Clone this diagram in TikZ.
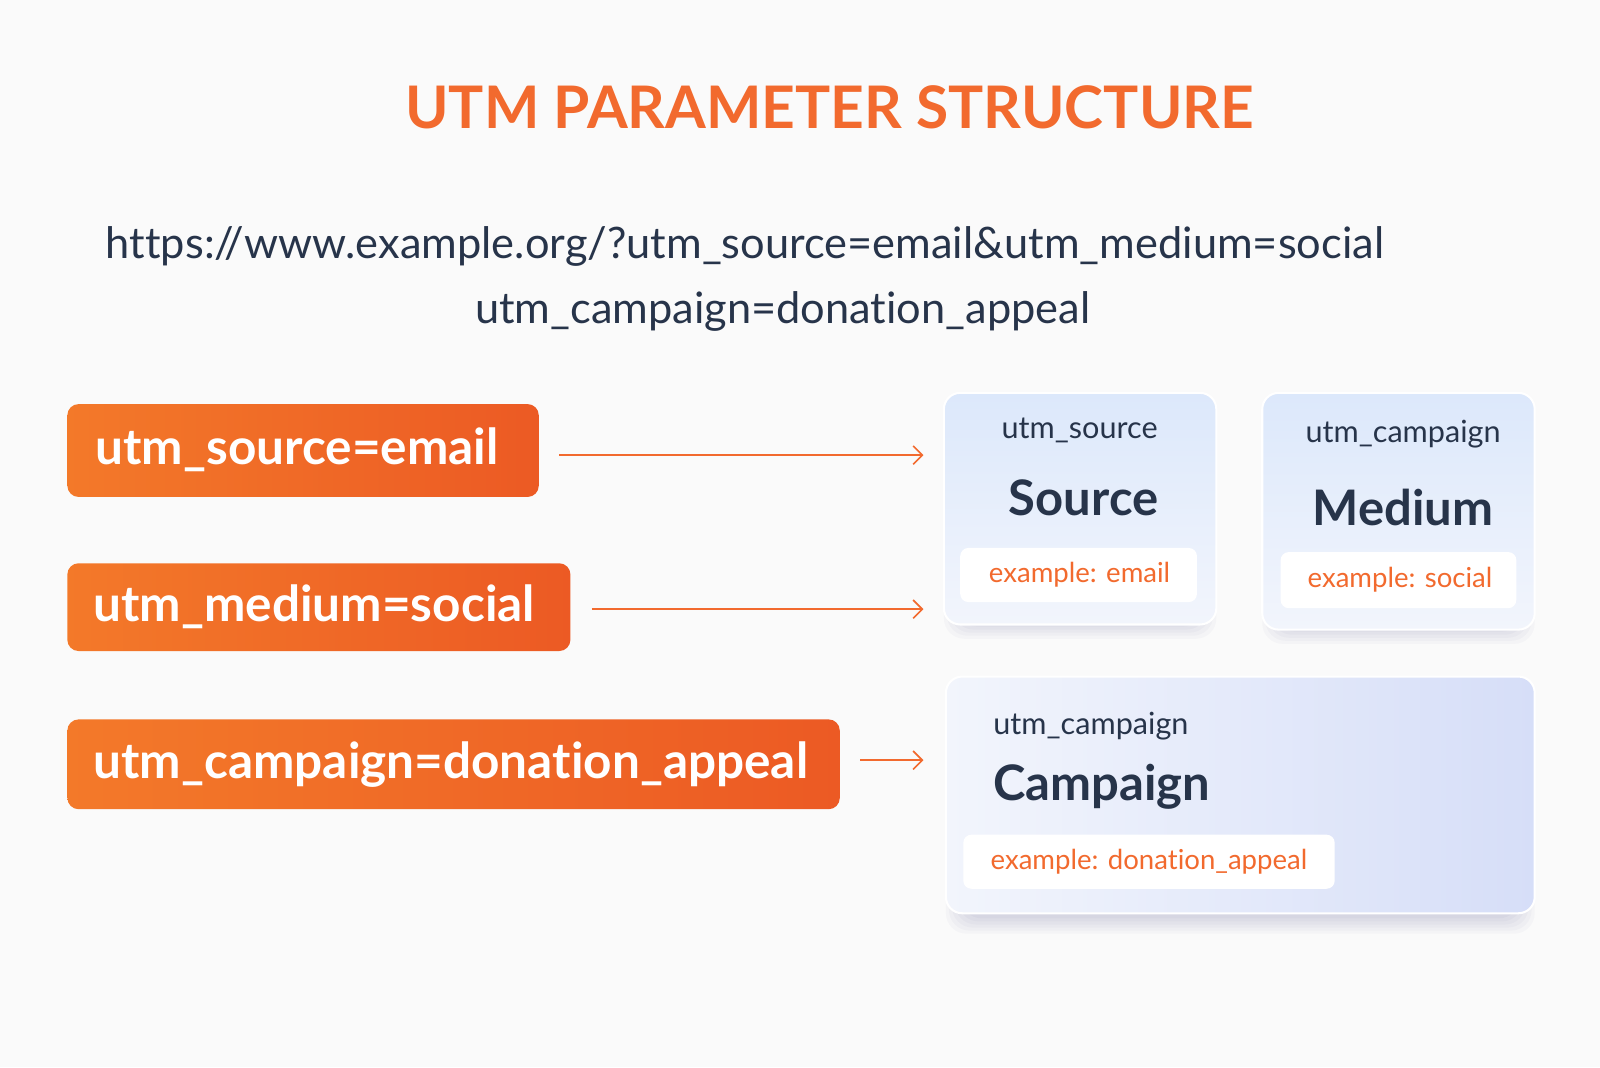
\documentclass[tikz,border=0pt]{standalone}
\usepackage{fontspec}
\setmainfont{Lato}[Ligatures=NoCommon]
\usetikzlibrary{arrows.meta}
\definecolor{org}{HTML}{F26A2E}
\definecolor{orgd}{HTML}{EC5A24}
\definecolor{ink}{HTML}{27344A}
\definecolor{cardA}{HTML}{DCE8FB}
\definecolor{cardB}{HTML}{F2F5FC}
\definecolor{cardC}{HTML}{D6DEF8}
\begin{document}
\begin{tikzpicture}[x=1pt,y=-1pt,
  tag/.style={rounded corners=11pt,left color=org!90!yellow,right color=orgd,draw=none},
  tagtxt/.style={text=white,font=\fontsize{48.5}{52}\selectfont\bfseries,anchor=west},
  arr/.style={draw=org,line width=1.6pt,-{Straight Barb[length=9pt,width=18pt]}},
  card/.style={rounded corners=16pt,draw=white,line width=2pt,top color=cardA,bottom color=cardB},
  shad/.style={rounded corners=20pt,fill=black!60!blue,fill opacity=0.025,draw=none},
  ex/.style={rounded corners=8pt,fill=white,draw=none},
  extxt/.style={text=org,font=\fontsize{27}{30}\selectfont},
  small/.style={text=ink,font=\fontsize{30}{34}\selectfont},
  big/.style={text=ink,font=\fontsize{48}{52}\selectfont\bfseries}]
\useasboundingbox[fill=gray!4] (0,0) rectangle (1568,1046);
\node[text=org,font=\fontsize{57.5}{60}\selectfont\bfseries] (title) at (813,105) {UTM PARAMETER STRUCTURE};
\node[text=ink,font=\fontsize{42.5}{46}\selectfont] (url1) at (730,242) {https://www.example.org/?utm\_source=email\&utm\_medium=social};
\node[text=ink,font=\fontsize{42.5}{46}\selectfont] (url2) at (767,305) {utm\_campaign=donation\_appeal};
% tags
\path[tag] (66,396) rectangle (528,487);
\node[tagtxt] (t1) at (90,441) {utm\_source=email};
\path[tag] (66,552) rectangle (559,638);
\node[tagtxt] (t2) at (88,595) {utm\_medium=social};
\path[tag] (66,705) rectangle (823,793);
\node[tagtxt] (t3) at (88,749) {utm\_campaign=donation\_appeal};
\coordinate (a1) at (548,446); \coordinate (b1) at (905,446);
\coordinate (a2) at (580,597); \coordinate (b2) at (905,597);
\coordinate (a3) at (843,745); \coordinate (b3) at (905,745);
\draw[arr] (a1) -- (b1);
\draw[arr] (a2) -- (b2);
\draw[arr] (a3) -- (b3);
% shadows
\foreach \d in {0,3,6,9,12,15}{
  \path[shad] (925+\d,395+\d) rectangle (1192-\d,626-\d);
  \path[shad] (1237+\d,395+\d) rectangle (1504-\d,631-\d);
  \path[shad] (927+\d,673+\d) rectangle (1504-\d,915-\d);
}
% cards
\path[card] (925,385) rectangle (1192,612);
\node[small] (c1a) at (1058,422) {utm\_source};
\node[big] (c1b) at (1062,488) {Source};
\path[ex] (941,537) rectangle (1173,590);
\node[extxt] (c1c) at (1058,563) {example: email};
\path[card] (1237,385) rectangle (1504,617);
\node[small] (c2a) at (1375,425) {utm\_campaign};
\node[big] (c2b) at (1375,497) {Medium};
\path[ex] (1255,541) rectangle (1486,596);
\node[extxt] (c2c) at (1372,568) {example: social};
\path[card,left color=cardB,right color=cardC] (927,663) rectangle (1504,895);
\node[small,anchor=west] (c3a) at (970,712) {utm\_campaign};
\node[big,anchor=west] (c3b) at (970,771) {Campaign};
\path[ex] (944,818) rectangle (1308,871);
\node[extxt] (c3c) at (1126,844) {example: donation\_appeal};
\end{tikzpicture}
\end{document}
